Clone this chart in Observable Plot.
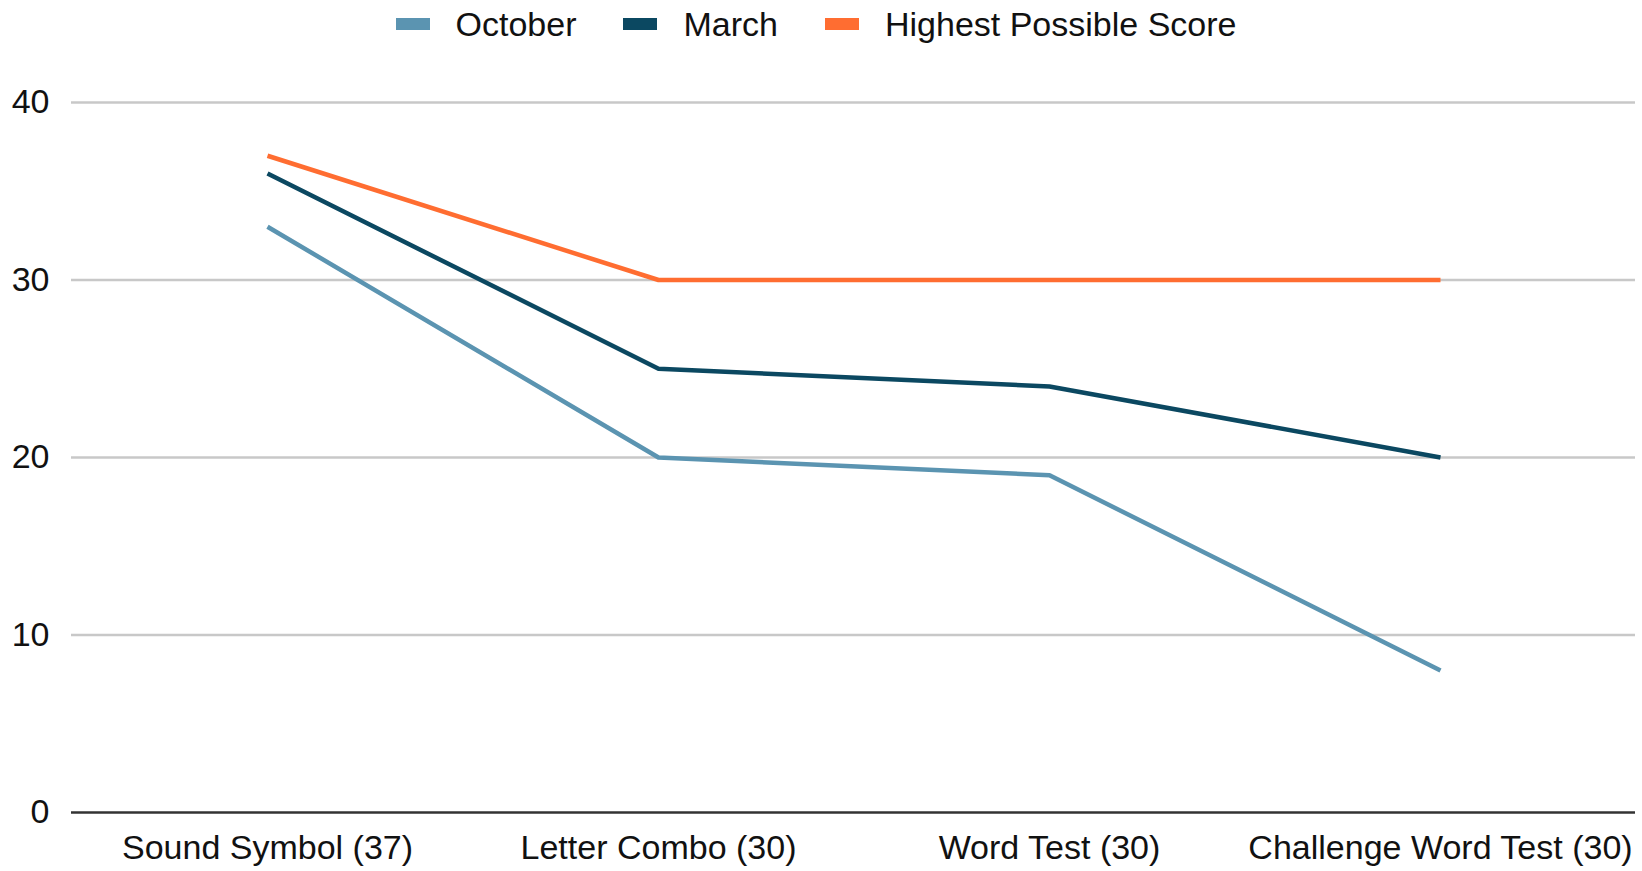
<!DOCTYPE html>
<html><head><meta charset="utf-8">
<script src="https://cdn.jsdelivr.net/npm/d3@7"></script>
<script src="https://cdn.jsdelivr.net/npm/@observablehq/plot@0.6"></script>
<style>
body{margin:0;background:#fff;font-family:"Liberation Sans",Arial,sans-serif;overflow:hidden;}
#legend{height:48px;display:flex;justify-content:center;align-items:center;font-size:34px;color:#111;padding-right:10px;}
.item{display:flex;align-items:center;margin:0 23.5px;}
.sw{width:34px;height:12px;margin-right:26px;}
#chart svg{display:block;}
</style></head><body>
<div id="legend"></div><div id="chart"></div>
<script>
const tests = ["Sound Symbol (37)", "Letter Combo (30)", "Word Test (30)", "Challenge Word Test (30)"];
const october = [33, 20, 19, 8];
const march = [36, 25, 24, 20];
const highest = [37, 30, 30, 30];
const seriesNames = ["October", "March", "Highest Possible Score"];
const seriesColors = ["#5b94b1", "#0b4861", "#ff6d31"];
const yTicks = [0, 10, 20, 30, 40];

const seriesValues = [october, march, highest];
const data = seriesNames.flatMap((s, j) => tests.map((t, i) => ({test: t, series: s, value: seriesValues[j][i]})));

const legend = document.getElementById("legend");
seriesNames.forEach((s, j) => {
  const it = document.createElement("div");
  it.className = "item";
  const sw = document.createElement("span");
  sw.className = "sw";
  sw.style.background = seriesColors[j];
  const tx = document.createElement("span");
  tx.textContent = s;
  it.appendChild(sw); it.appendChild(tx);
  legend.appendChild(it);
});

const plot = Plot.plot({
  width: 1642, height: 823,
  marginLeft: 71, marginRight: 7, marginTop: 54, marginBottom: 59,
  style: {fontSize: "34px", fontFamily: "'Liberation Sans', Arial, sans-serif", color: "#111", background: "white"},
  x: {type: "point", domain: tests, padding: 0.5, label: null},
  y: {domain: [0, 40], ticks: yTicks, label: null},
  color: {domain: seriesNames, range: seriesColors},
  marks: [
    Plot.ruleY(yTicks.filter(d => d > 0), {stroke: "#c8c8c8", strokeWidth: 2.5}),
    Plot.ruleY([0], {stroke: "#333333", strokeWidth: 2.5}),
    Plot.axisY({ticks: yTicks, tickSize: 0, tickPadding: 22, label: null}),
    Plot.axisX({tickSize: 0, tickPadding: 22, label: null}),
    Plot.lineY(data, {x: "test", y: "value", z: "series", stroke: "series", strokeWidth: 4.5, strokeLinecap: "butt"})
  ]
});
document.getElementById("chart").appendChild(plot);
</script>
</body></html>
